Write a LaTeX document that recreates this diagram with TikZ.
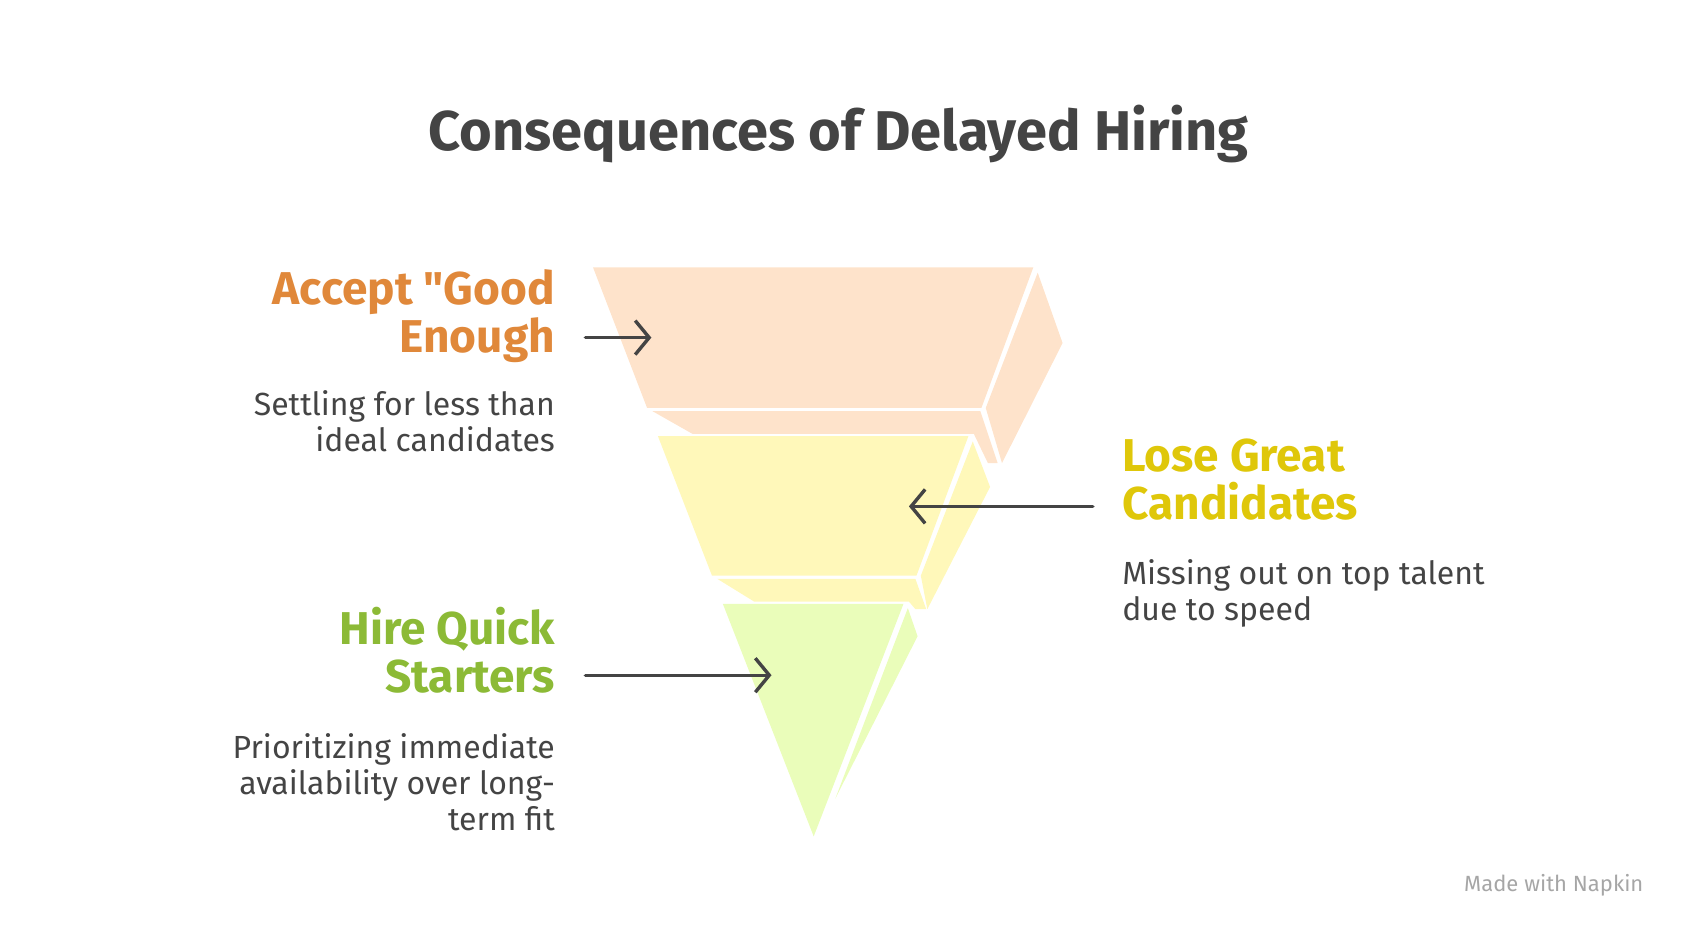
\documentclass[tikz,border=0pt]{standalone}
\usepackage{fontspec}
\setmainfont{Fira Sans}[Ligatures=TeXOff]
\usetikzlibrary{positioning,arrows.meta}
\definecolor{txtgray}{HTML}{444444}
\definecolor{peach}{HTML}{FEE3CB}
\definecolor{lemon}{HTML}{FFF8BA}
\definecolor{lime}{HTML}{EAFDBA}
\definecolor{orangelab}{HTML}{E0883A}
\definecolor{yellowlab}{HTML}{DFC70A}
\definecolor{greenlab}{HTML}{8CBA36}
\tikzset{
  headlbl/.style={font=\bfseries\fontsize{46}{48}\selectfont, inner sep=0pt},
  desclbl/.style={font=\fontsize{32}{36}\selectfont, text=txtgray, inner sep=0pt},
  pointer/.style={draw=txtgray, line width=3.4pt, line cap=round, -{Straight Barb[length=14pt,width=34pt,line width=3.4pt]}},
}
\begin{document}
\begin{tikzpicture}[x=1.082pt,y=-1.082pt]
\useasboundingbox (0,0) rectangle (1560,865);
% title
\node[font=\bfseries\fontsize{56}{60}\selectfont, text=txtgray] (title) at (775,124) {Consequences of Delayed Hiring};
% top layer
\fill[peach] (548,247) -- (955,247) -- (907,377) -- (598,377) -- cycle;
\fill[peach] (911,377) -- (959,252) -- (982,317) -- (926,428) -- cycle;
\fill[peach] (603,380) -- (906,380) -- (922,428) -- (913,428) -- (900,401) -- (640,401) -- cycle;
% middle layer
\fill[lemon] (608,403) -- (895,403) -- (847,532) -- (658,532) -- cycle;
\fill[lemon] (851,532) -- (899,408) -- (915,450) -- (857,563) -- cycle;
\fill[lemon] (663,535) -- (846,535) -- (856,563) -- (846,563) -- (840,556) -- (697,556) -- cycle;
% bottom layer
\fill[lime] (668,558) -- (835,558) -- (752,773) -- cycle;
\fill[lime] (839,562) -- (848,588) -- (772,738) -- cycle;
% anchor points
\coordinate (a1s) at (541,312); \coordinate (a1e) at (602,312);
\coordinate (a2s) at (1010,468); \coordinate (a2e) at (840,468);
\coordinate (a3s) at (541,624); \coordinate (a3e) at (713,624);
\draw[pointer] (a1s) -- (a1e);
\draw[pointer] (a2s) -- (a2e);
\draw[pointer] (a3s) -- (a3e);
% labels
\node[headlbl, text=orangelab, anchor=north east, align=right] (accept) at (513,249) {Accept "Good\\Enough};
\node[desclbl, anchor=north east, align=right] (acceptd) at (513,361) {Settling for less than\\ideal candidates};
\node[headlbl, text=yellowlab, anchor=north west, align=left] (lose) at (1037,405) {Lose Great\\Candidates};
\node[desclbl, anchor=north west, align=left] (losed) at (1037,517) {Missing out on top talent\\due to speed};
\node[headlbl, text=greenlab, anchor=north east, align=right] (hire) at (513,561) {Hire Quick\\Starters};
\node[desclbl, anchor=north east, align=right] (hired) at (513,678) {Prioritizing immediate\\availability over long-\\term fit};
\node[font=\fontsize{22}{26}\selectfont, text=gray!70, anchor=east] (napkin) at (1522,818) {Made with Napkin};
\end{tikzpicture}
\end{document}
